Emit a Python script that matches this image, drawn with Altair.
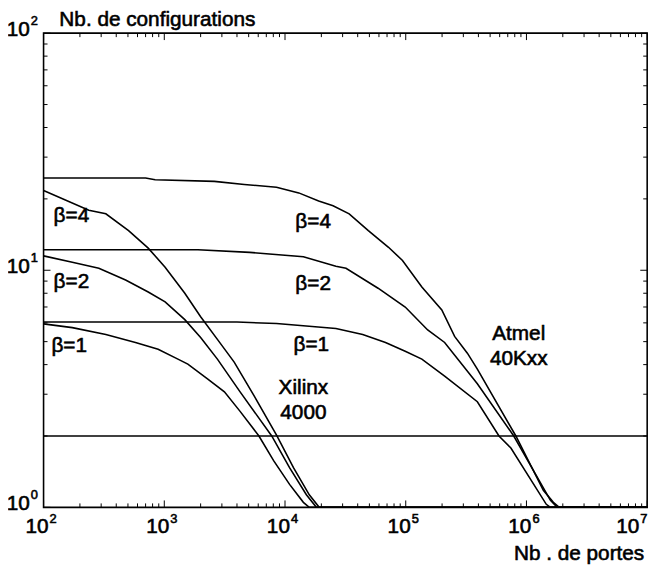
import altair as alt
import pandas as pd

# ---------------- data ----------------
xil_b4_x = [100, 237, 328, 506, 736, 1016, 1479, 2000, 2754, 3793, 5534, 8531, 11750, 15890, 19190, 1e7]
xil_b4_y = [21.7, 17.9, 17.3, 14.7, 12.4, 10.3, 8.0, 6.37, 5.11, 4.1, 2.96, 2.01, 1.47, 1.13, 1.0, 1.0]

xil_b2_x = [100, 173, 287, 478, 736, 1016, 1479, 2000, 2754, 4246, 7762, 10900, 15030, 18200, 1e7]
xil_b2_y = [11.5, 10.8, 10.2, 9.09, 8.1, 7.36, 6.19, 5.21, 4.22, 3.07, 2.0, 1.47, 1.13, 1.0, 1.0]

xil_b1_x = [100, 173, 328, 577, 889, 1297, 1567, 2280, 3148, 4246, 6081, 8072, 10910, 14190, 15890, 1e7]
xil_b1_y = [5.94, 5.73, 5.36, 4.96, 4.64, 4.22, 4.02, 3.48, 3.07, 2.54, 2.0, 1.57, 1.25, 1.05, 1.0, 1.0]

atm_b4_x = [100, 700, 840, 2600, 4600, 8500, 13000, 19000, 25000, 34000, 49000, 72000, 94000,
            136000, 199000, 254000, 324000, 392000, 817000, 1380000, 1670000, 1870000, 1e7]
atm_b4_y = [24.5, 24.5, 24.1, 23.7, 23.0, 22.4, 21.2, 19.6, 18.7, 17.3, 14.7, 12.5, 11.0,
            8.5, 6.8, 5.26, 4.47, 3.83, 2.0, 1.18, 1.05, 1.0, 1.0]

atm_b2_x = [100, 1900, 5100, 14200, 26400, 32000, 59000, 99000, 152000, 210000, 392000, 785000,
            1580000, 1800000, 1e7]
atm_b2_y = [12.2, 12.2, 11.9, 11.4, 10.4, 10.2, 8.4, 7.0, 5.6, 4.96, 3.32, 2.0, 1.07, 1.0, 1.0]

atm_b1_x = [100, 4000, 8500, 26400, 44000, 68000, 99000, 136000, 210000, 392000, 592000, 743000,
            1460000, 1580000, 1e7]
atm_b1_y = [6.05, 6.05, 5.96, 5.68, 5.36, 4.96, 4.55, 4.22, 3.58, 2.79, 2.0, 1.78, 1.03, 1.0, 1.0]

limit_x = [100, 1e7]
limit_y = [2.0, 2.0]

ann_text = ["β=4", "β=2", "β=1", "β=4", "β=2", "β=1", "Xilinx", "4000", "Atmel", "40Kxx"]
ann_x = [170, 170, 163, 17100, 17100, 16500, 14200, 14200, 863000, 863000]
ann_y = [16.9, 8.9, 4.8, 16.0, 8.74, 4.85, 3.18, 2.51, 5.39, 4.22]

x_major = [100, 1000, 10000, 100000, 1000000, 10000000]
x_exp = ["2", "3", "4", "5", "6", "7"]
y_major = [1, 10, 100]
y_exp = ["0", "1", "2"]
x_minor = [m * 10 ** k for k in range(2, 7) for m in range(2, 10)]
y_minor = [m * 10 ** k for k in range(0, 2) for m in range(2, 10)]

y_title = "Nb. de configurations"
x_title = "Nb . de portes"

# ---------------- build tables ----------------
series = [("xil4", xil_b4_x, xil_b4_y), ("xil2", xil_b2_x, xil_b2_y), ("xil1", xil_b1_x, xil_b1_y),
          ("atm4", atm_b4_x, atm_b4_y), ("atm2", atm_b2_x, atm_b2_y), ("atm1", atm_b1_x, atm_b1_y),
          ("limit", limit_x, limit_y)]
rows = []
for name, xs, ys in series:
    for i, (a, b) in enumerate(zip(xs, ys)):
        rows.append({"s": name, "x": a, "y": b, "o": i})
curves = pd.DataFrame(rows)
ann = pd.DataFrame({"t": ann_text, "x": ann_x, "y": ann_y})
xmaj = pd.DataFrame({"v": x_major, "e": x_exp})
ymaj = pd.DataFrame({"v": y_major, "e": y_exp})
xmin = pd.DataFrame({"v": x_minor})
ymin = pd.DataFrame({"v": y_minor})

W, H = 611, 480
FONT = "Liberation Sans"
TXT = dict(font=FONT, color="black", stroke="black", strokeWidth=0.6)
xs = alt.Scale(type="log", domain=[100, 1e7])
ys = alt.Scale(type="log", domain=[1, 100])
X = lambda f: alt.X(f, type="quantitative", scale=xs, axis=None)
Y = lambda f: alt.Y(f, type="quantitative", scale=ys, axis=None)

lines = alt.Chart(curves).mark_line(color="black", strokeWidth=1.6, clip=True).encode(
    x=X("x"), y=Y("y"), detail="s:N", order="o:Q")

labels = alt.Chart(ann).mark_text(fontSize=21, align="center", baseline="middle", **TXT).encode(
    x=X("x"), y=Y("y"), text="t:N")

def rule(df, **enc):
    return alt.Chart(df).mark_rule(color="black", strokeWidth=1).encode(**enc)

ticks = [
    rule(xmaj, x=X("v"), y=alt.value(H), y2=alt.value(H - 7)),
    rule(xmaj, x=X("v"), y=alt.value(0), y2=alt.value(7)),
    rule(xmin, x=X("v"), y=alt.value(H), y2=alt.value(H - 4)),
    rule(xmin, x=X("v"), y=alt.value(0), y2=alt.value(4)),
    rule(ymaj, y=Y("v"), x=alt.value(0), x2=alt.value(7)),
    rule(ymaj, y=Y("v"), x=alt.value(W), x2=alt.value(W - 7)),
    rule(ymin, y=Y("v"), x=alt.value(0), x2=alt.value(4)),
    rule(ymin, y=Y("v"), x=alt.value(W), x2=alt.value(W - 4)),
]

inner = alt.Chart(xmaj).transform_filter("datum.v < 5e6")
last = alt.Chart(xmaj).transform_filter("datum.v > 5e6")
xlab10 = inner.mark_text(fontSize=21, align="right", baseline="middle", dx=5, **TXT).encode(
    x=X("v"), y=alt.value(H + 20), text=alt.value("10"))
xlabe = inner.mark_text(fontSize=13, align="left", baseline="middle", dx=6, **TXT).encode(
    x=X("v"), y=alt.value(H + 12), text="e:N")
xlab10b = last.mark_text(fontSize=21, align="right", baseline="middle", dx=-8, **TXT).encode(
    x=X("v"), y=alt.value(H + 20), text=alt.value("10"))
xlabeb = last.mark_text(fontSize=13, align="left", baseline="middle", dx=-7, **TXT).encode(
    x=X("v"), y=alt.value(H + 12), text="e:N")
ylab10 = alt.Chart(ymaj).mark_text(fontSize=21, align="right", baseline="middle", dy=-3, **TXT).encode(
    y=Y("v"), x=alt.value(-14), text=alt.value("10"))
ylabe = alt.Chart(ymaj).mark_text(fontSize=13, align="left", baseline="middle", dy=-12, **TXT).encode(
    y=Y("v"), x=alt.value(-13), text="e:N")

one = alt.Chart(ymaj).transform_filter("datum.v == 1")
ytitle = one.mark_text(fontSize=21, align="left", baseline="alphabetic", **TXT).encode(
    x=alt.value(16), y=alt.value(-7), text=alt.value(y_title))
xtitle = one.mark_text(fontSize=21, align="right", baseline="alphabetic", **TXT).encode(
    x=alt.value(W - 3), y=alt.value(H + 53), text=alt.value(x_title))

chart = alt.layer(lines, labels, *ticks, xlab10, xlabe, xlab10b, xlabeb, ylab10, ylabe,
                  ytitle, xtitle).properties(
    width=W, height=H,
    autosize=alt.AutoSizeParams(type="none"),
    padding={"left": 36, "top": 22, "right": 15, "bottom": 65},
).configure_view(stroke="black", strokeWidth=1.6)

chart.save("out.html", embed_options={"renderer": "svg", "actions": False})
